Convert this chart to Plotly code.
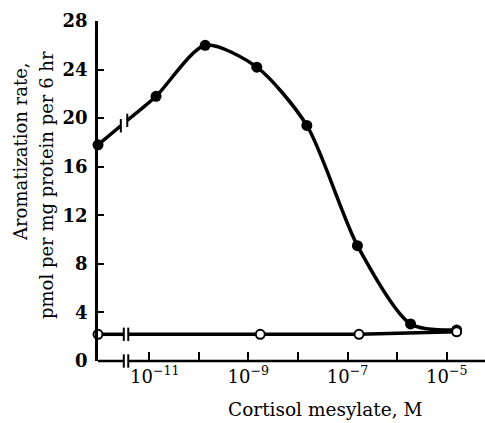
import plotly.graph_objects as go
import numpy as np

# ---- data ----
conc_filled = [1.38e-11, 1.35e-10, 1.48e-9, 1.51e-8, 1.58e-7, 1.86e-6, 1.58e-5]
rate_filled = [21.8, 26.0, 24.2, 19.4, 9.5, 3.05, 2.55]
control_filled = 17.8

conc_open = [1.74e-9, 1.70e-7, 1.58e-5]
rate_open = [2.2, 2.2, 2.4]
control_open = 2.2

y_ticks = [0, 4, 8, 12, 16, 20, 24, 28]
x_tick_exps = [-11, -10, -9, -8, -7, -6, -5]
x_label_exps = [-11, -9, -7, -5]

# ---- geometry / styling ----
X_LO, X_HI = -12.03, -4.23
Y_LO, Y_HI = 0, 28
BRK_L, BRK_R = -11.51, -11.42         # axis / open-line break
FBRK_L, FBRK_R = -11.57, -11.44       # filled-line break
BAR_H = 0.55                          # half height of break bars (data units)
FONT = "DejaVu Serif"
LW = 3.5

control_x = 10 ** X_LO


def interp_log(xlog, x0, y0, x1, y1):
    return y0 + (y1 - y0) * (xlog - x0) / (x1 - x0)


def px(xlog):
    return (xlog - X_LO) / (X_HI - X_LO)


def py(yv):
    return (yv - Y_LO) / (Y_HI - Y_LO)


f0 = np.log10(conc_filled[0])
fy_l = interp_log(FBRK_L, X_LO, control_filled, f0, rate_filled[0])
fy_r = interp_log(FBRK_R, X_LO, control_filled, f0, rate_filled[0])
o0 = np.log10(conc_open[0])
oy_l = interp_log(BRK_L, X_LO, control_open, o0, rate_open[0])
oy_r = interp_log(BRK_R, X_LO, control_open, o0, rate_open[0])

fig = go.Figure()

# open-circle series
fig.add_trace(go.Scatter(x=[control_x, 10 ** BRK_L], y=[control_open, oy_l], mode="lines",
                         line=dict(color="black", width=LW), cliponaxis=False, hoverinfo="skip"))
fig.add_trace(go.Scatter(x=[10 ** BRK_R] + conc_open, y=[oy_r] + rate_open, mode="lines",
                         line=dict(color="black", width=LW), cliponaxis=False, hoverinfo="skip"))

# filled series
fig.add_trace(go.Scatter(x=[control_x, 10 ** FBRK_L], y=[control_filled, fy_l], mode="lines",
                         line=dict(color="black", width=LW), cliponaxis=False, hoverinfo="skip"))
fig.add_trace(go.Scatter(x=[10 ** FBRK_R] + conc_filled, y=[fy_r] + rate_filled, mode="lines",
                         line=dict(color="black", width=LW, shape="spline", smoothing=0.75),
                         cliponaxis=False, hoverinfo="skip"))
fig.add_trace(go.Scatter(x=[control_x] + conc_filled, y=[control_filled] + rate_filled, mode="markers",
                         marker=dict(color="black", size=11, line=dict(width=0)), cliponaxis=False))
fig.add_trace(go.Scatter(x=[control_x] + conc_open, y=[control_open] + rate_open, mode="markers",
                         marker=dict(color="white", size=9, line=dict(color="black", width=2)),
                         cliponaxis=False))

shapes = []
# x axis line with break
for a, b in [(X_LO, BRK_L), (BRK_R, X_HI)]:
    shapes.append(dict(type="line", xref="paper", yref="paper", x0=px(a), x1=px(b), y0=0, y1=0,
                       line=dict(color="black", width=2.5)))
# break bars
for xb in (BRK_L, BRK_R):
    for yc in (0, control_open):
        shapes.append(dict(type="line", xref="paper", yref="paper", x0=px(xb), x1=px(xb),
                           y0=py(yc - BAR_H), y1=py(yc + BAR_H), line=dict(color="black", width=2)))
for xb, yb in ((FBRK_L, fy_l), (FBRK_R, fy_r)):
    shapes.append(dict(type="line", xref="paper", yref="paper", x0=px(xb), x1=px(xb),
                       y0=py(yb - BAR_H), y1=py(yb + BAR_H), line=dict(color="black", width=2)))


def label(e):
    if e not in x_label_exps:
        return ""
    pad = "\u00a0\u00a0" if e == x_label_exps[0] else ""
    return pad + "10<sup>\u2212%d</sup>" % (-e)


ticktext = [label(e) for e in x_tick_exps]

fig.update_layout(
    width=485, height=423,
    margin=dict(l=98, r=0, t=21, b=62),
    paper_bgcolor="white", plot_bgcolor="white",
    showlegend=False,
    font=dict(family=FONT, color="black", size=18),
    shapes=shapes,
    xaxis=dict(type="log", range=[X_LO, X_HI], showgrid=False, zeroline=False, showline=False,
               tickmode="array", tickvals=[10 ** e for e in x_tick_exps], ticktext=ticktext,
               ticks="inside", ticklen=9, tickwidth=2, tickcolor="black",
               tickfont=dict(family=FONT, size=18), ticklabelstandoff=3),
    yaxis=dict(range=[Y_LO, Y_HI], showgrid=False, zeroline=False, showline=True, linecolor="black",
               linewidth=2.5, tickmode="array", tickvals=y_ticks,
               ticks="inside", ticklen=6, tickwidth=2, tickcolor="black",
               tickfont=dict(family=FONT, size=18, weight="bold"), ticklabelstandoff=4),
    annotations=[
        dict(text="Aromatization rate,", xref="paper", yref="paper", x=-78 / 387, y=1 - (152 - 21) / 340,
             xanchor="center", yanchor="middle", textangle=-90, showarrow=False,
             font=dict(family=FONT, size=18)),
        dict(text="pmol per mg protein per 6 hr", xref="paper", yref="paper", x=-52 / 387,
             y=1 - (185 - 21) / 340, xanchor="center", yanchor="middle", textangle=-90, showarrow=False,
             font=dict(family=FONT, size=18)),
        dict(text="Cortisol mesylate, M", xref="paper", yref="paper", x=(325 - 98) / 387,
             y=-(409 - 361) / 340, xanchor="center", yanchor="middle", showarrow=False,
             font=dict(family=FONT, size=18.5)),
    ],
)

fig.write_html("out.html")
